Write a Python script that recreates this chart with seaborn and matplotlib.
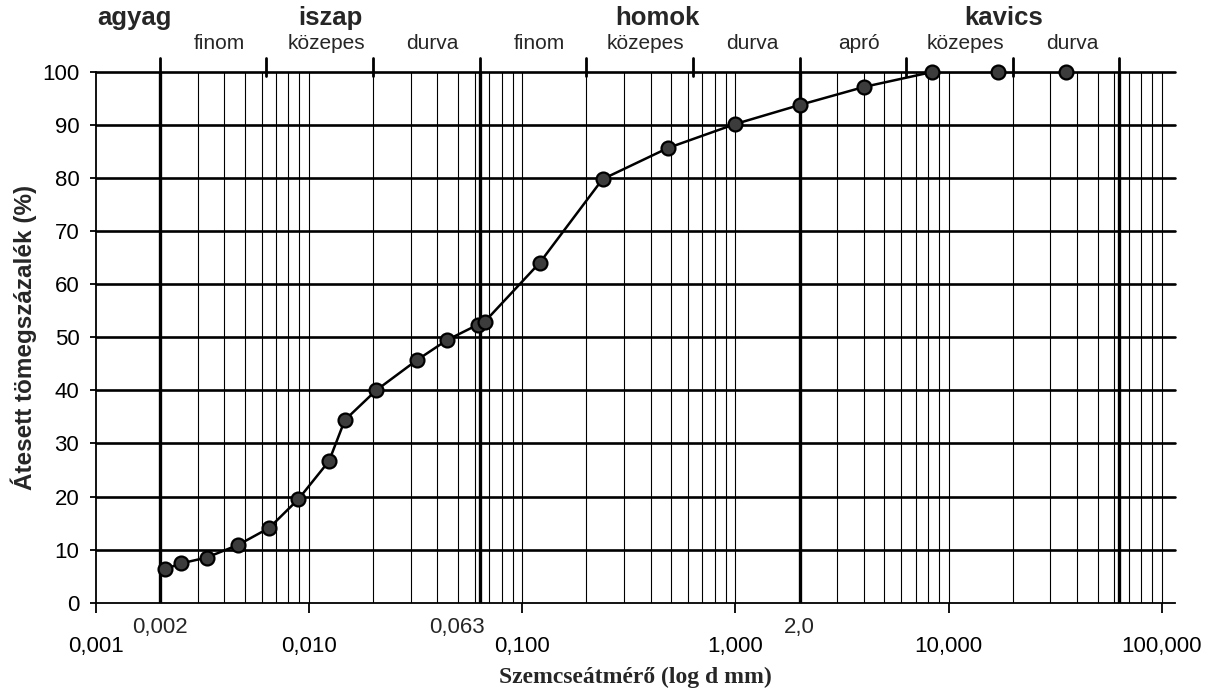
# Szemeloszlási görbe (logaritmikus szemcseátmérő tengellyel)
import numpy as np
import pandas as pd
import matplotlib
matplotlib.use("Agg")
import matplotlib.pyplot as plt
import matplotlib.transforms as mtransforms
import seaborn as sns

# Mért pontok: szemcseátmérő (mm) és átesett tömegszázalék (%)
atmero = [0.0021, 0.0025, 0.0033, 0.00465, 0.0065, 0.0089, 0.0124, 0.0147,
          0.0206, 0.032, 0.0444, 0.062, 0.0665, 0.121, 0.238, 0.484,
          1.0, 2.01, 4.03, 8.4, 17.0, 35.5]
atesett = [6.3, 7.4, 8.5, 10.9, 14.1, 19.5, 26.7, 34.4, 40.0, 45.7, 49.5,
           52.4, 52.9, 64.1, 79.8, 85.7, 90.2, 93.8, 97.2, 100, 100, 100]

# Tengelyfeliratok
x_tickek = [0.001, 0.01, 0.1, 1, 10, 100]
x_feliratok = ["0,001", "0,010", "0,100", "1,000", "10,000", "100,000"]
y_tickek = list(range(0, 101, 10))

# Frakcióhatárok (mm)
fo_hatarok = [0.002, 0.063, 2.0, 63.0]
fo_hatar_feliratok = ["0,002", "0,063", "2,0"]
al_hatarok = [0.002, 0.0063, 0.02, 0.063, 0.2, 0.63, 2.0, 6.3, 20.0, 63.0]
al_nevek = ["finom", "közepes", "durva", "finom", "közepes", "durva",
            "apró", "közepes", "durva"]
fo_nevek = ["agyag", "iszap", "homok", "kavics"]
fo_nev_x = [0.00151, 0.0126, 0.43, 18.1]

df = pd.DataFrame({"d": atmero, "p": atesett})

sns.set_style("white")
plt.rcParams["font.family"] = ["Liberation Sans", "DejaVu Sans"]

fig = plt.figure(figsize=(12.12, 6.9), dpi=100)
ax = fig.add_axes([0.0792, 0.1265, 0.890, 0.7692])
ax.set_xscale("log")
ax.set_xlim(0.001, 115)
ax.set_ylim(0, 100)

# rács: vékony függőleges vonalak minden log osztásnál
racs_x = [m * 10.0 ** e for e in range(-3, 3) for m in range(1, 10)]
racs_x = [v for v in racs_x if 0.001 < v <= 100]
for v in racs_x:
    ax.axvline(v, color="black", lw=0.8, zorder=1)
for v in fo_hatarok:
    ax.axvline(v, color="black", lw=2.4, zorder=1)
for v in y_tickek[1:]:
    ax.axhline(v, color="black", lw=1.9, zorder=1, clip_on=False)

# görbe és pontok
sns.lineplot(data=df, x="d", y="p", ax=ax, color="black", lw=1.8,
             sort=False, estimator=None, zorder=3)
sns.scatterplot(data=df, x="d", y="p", ax=ax, s=100, color="#3c3c3c",
                edgecolor="black", linewidth=1.6, zorder=4, clip_on=False)

# tengelyek
for s in ["top", "right"]:
    ax.spines[s].set_visible(False)
for s in ["left", "bottom"]:
    ax.spines[s].set_color("black")
    ax.spines[s].set_linewidth(1.3)

ax.set_xticks(x_tickek)
ax.set_xticklabels(x_feliratok, fontsize=16)
ax.xaxis.set_minor_locator(matplotlib.ticker.NullLocator())
ax.tick_params(axis="x", which="major", direction="out", length=7, width=1.3,
               pad=17, colors="black", bottom=True)
ax.set_yticks(y_tickek)
ax.set_yticklabels([str(v) for v in y_tickek], fontsize=16)
ax.tick_params(axis="y", direction="out", length=4, width=1.3, pad=8,
               colors="black", left=True)

# frakcióhatár-feliratok a tengely alatt
trans = mtransforms.blended_transform_factory(ax.transData, ax.transAxes)
ax.text(0.002, -0.026, fo_hatar_feliratok[0], transform=trans, ha="center",
        va="top", fontsize=16)
ax.text(0.067, -0.026, fo_hatar_feliratok[1], transform=trans, ha="right",
        va="top", fontsize=16)
ax.text(2.0, -0.026, fo_hatar_feliratok[2], transform=trans, ha="center",
        va="top", fontsize=16)

# frakciók a diagram felett
for v in al_hatarok:
    ax.plot([v, v], [99.2, 102.7], color="black", lw=2, clip_on=False, zorder=2)
for i, nev in enumerate(al_nevek):
    kozep = np.sqrt(al_hatarok[i] * al_hatarok[i + 1]) * 1.07
    ax.text(kozep, 105.4, nev, ha="center", va="center", fontsize=15)
for x, nev in zip(fo_nev_x, fo_nevek):
    ax.text(x, 110.2, nev, ha="center", va="center", fontsize=18.5,
            fontweight="bold")

ax.set_xlabel("Szemcseátmérő (log d mm)", fontsize=17, fontweight="bold",
              family="Liberation Serif", labelpad=7)
ax.set_ylabel("Átesett tömegszázalék (%)", fontsize=17.5, fontweight="bold",
              labelpad=4)

fig.savefig("out.png", dpi=100)
